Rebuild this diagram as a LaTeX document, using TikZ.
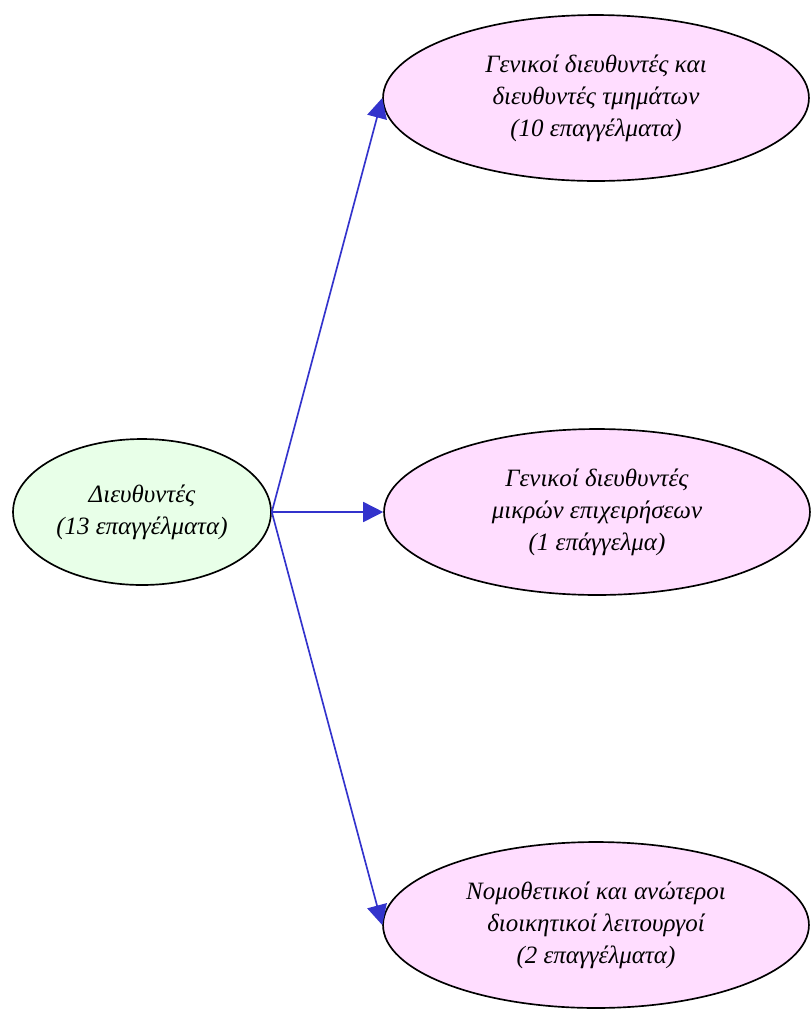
\documentclass[tikz,border=0pt]{standalone}
\usepackage{fontspec}
\setmainfont{Liberation Serif}
\usepackage{tikz}
\usetikzlibrary{shapes.geometric,arrows.meta}

\definecolor{jobpink}{RGB}{255,221,255}
\definecolor{jobgreen}{RGB}{232,255,232}
\definecolor{jobblue}{RGB}{51,51,204}

\begin{document}
\begin{tikzpicture}[x=0.02cm,y=-0.02cm,
  group/.style={ellipse, draw=black, line width=0.95pt, inner sep=0pt, align=center,
    font=\fontsize{14.2}{18.2}\selectfont\itshape},
  root/.style={group, fill=jobgreen, minimum width=5.16cm, minimum height=2.92cm},
  leaf/.style={group, fill=jobpink, minimum width=8.52cm, minimum height=3.32cm},
  link/.style={draw=jobblue, line width=0.95pt, -{Triangle[length=0.4cm,width=0.4cm]}}]
\useasboundingbox (0,0) rectangle (811,1009);

\node[root] (dir) at (142,512) {Διευθυντές\\(13 επαγγέλματα)};

\node[leaf] (gen) at (596,98) {Γενικοί διευθυντές και\\διευθυντές τμημάτων\\(10 επαγγέλματα)};
\node[leaf] (small) at (597,512) {Γενικοί διευθυντές\\μικρών επιχειρήσεων\\(1 επάγγελμα)};
\node[leaf] (leg) at (596,925) {Νομοθετικοί και ανώτεροι\\διοικητικοί λειτουργοί\\(2 επαγγέλματα)};

\draw[link] (dir.east) -- (gen.west);
\draw[link] (dir.east) -- (small.west);
\draw[link] (dir.east) -- (leg.west);
\end{tikzpicture}
\end{document}
